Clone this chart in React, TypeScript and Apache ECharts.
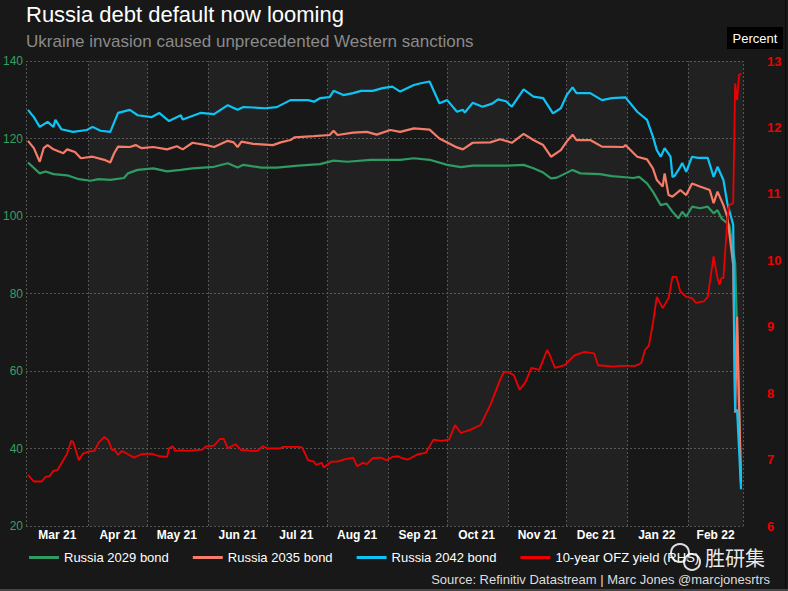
import React, { useEffect, useRef } from "react";
import * as echarts from "echarts";

const TITLE = "Russia debt default now looming";
const SUBTITLE = "Ukraine invasion caused unprecedented Western sanctions";
const SOURCE = "Source: Refinitiv Datastream | Marc Jones @marcjonesrtrs";
const SERIES_NAMES = ["Russia 2029 bond", "Russia 2035 bond", "Russia 2042 bond", "10-year OFZ yield (RHS)"];
const SERIES_COLORS = ["#2f9a62", "#f47c68", "#0ec4f5", "#ee0000"];
const MONTH_NAMES = ["Jan", "Feb", "Mar", "Apr", "May", "Jun", "Jul", "Aug", "Sep", "Oct", "Nov", "Dec"];

const X_MIN = "2021-02-28";
const X_MAX = "2022-03-01";
const MONTH_BOUNDS = [
  "2021-02-28", "2021-04-01", "2021-05-01", "2021-06-01", "2021-07-01", "2021-08-01", "2021-09-01",
  "2021-10-01", "2021-11-01", "2021-12-01", "2022-01-01", "2022-02-01", "2022-03-01",
];
const MONTH_LABEL_POS = [
  "2021-03-16", "2021-04-16", "2021-05-16", "2021-06-16", "2021-07-16", "2021-08-16",
  "2021-09-16", "2021-10-16", "2021-11-16", "2021-12-16", "2022-01-16", "2022-02-15",
];

const bond2029: [string, number][] = [
  ["2021-03-01", 113.8], ["2021-03-07", 111], ["2021-03-10", 111.5], ["2021-03-14", 110.8], ["2021-03-21", 110.5],
  ["2021-03-27", 109.5], ["2021-04-02", 109.1], ["2021-04-06", 109.5], ["2021-04-12", 109.3], ["2021-04-19", 109.8],
  ["2021-04-21", 111], ["2021-04-26", 111.9], ["2021-05-04", 112.3], ["2021-05-11", 111.5], ["2021-05-18", 111.9],
  ["2021-05-24", 112.3], ["2021-06-04", 112.7], ["2021-06-11", 113.6], ["2021-06-16", 112.5], ["2021-06-19", 113.2],
  ["2021-06-28", 112.5], ["2021-07-06", 112.5], ["2021-07-17", 113], ["2021-07-28", 113.4], ["2021-08-04", 114.3],
  ["2021-08-11", 114], ["2021-08-23", 114.5], ["2021-09-07", 114.5], ["2021-09-14", 114.9], ["2021-09-22", 114.5],
  ["2021-10-01", 113.2], ["2021-10-08", 112.6], ["2021-10-14", 113], ["2021-10-23", 113], ["2021-11-01", 113],
  ["2021-11-09", 113.2], ["2021-11-14", 112.3], ["2021-11-19", 111.2], ["2021-11-23", 109.7], ["2021-11-26", 109.9],
  ["2021-12-04", 111.9], ["2021-12-08", 111], ["2021-12-18", 110.8], ["2021-12-24", 110.3], ["2021-12-31", 110],
  ["2022-01-04", 109.8], ["2022-01-07", 110.1], ["2022-01-11", 108.4], ["2022-01-14", 106.3], ["2022-01-18", 102.8],
  ["2022-01-21", 103.2], ["2022-01-24", 101.1], ["2022-01-27", 99.4], ["2022-01-29", 101.1], ["2022-01-31", 99.8],
  ["2022-02-03", 102.4], ["2022-02-07", 102], ["2022-02-11", 102.4], ["2022-02-14", 100.7], ["2022-02-16", 101.5],
  ["2022-02-18", 99.4], ["2022-02-22", 97.7], ["2022-02-25", 87.8], ["2022-02-26", 70], ["2022-02-27", 49],
  ["2022-02-28", 31.5],
];

const bond2035: [string, number][] = [
  ["2021-03-01", 119.4], ["2021-03-04", 117.5], ["2021-03-07", 114], ["2021-03-09", 117.5], ["2021-03-11", 118.3],
  ["2021-03-14", 117.2], ["2021-03-19", 116.2], ["2021-03-21", 117.2], ["2021-03-25", 116.5], ["2021-03-28", 114.9],
  ["2021-04-03", 115.3], ["2021-04-09", 114.5], ["2021-04-12", 113.8], ["2021-04-14", 116.2], ["2021-04-16", 117.9],
  ["2021-04-22", 117.8], ["2021-04-25", 118.3], ["2021-04-28", 117.5], ["2021-05-04", 117.8], ["2021-05-11", 117.2],
  ["2021-05-16", 118], ["2021-05-19", 117.2], ["2021-05-24", 118.9], ["2021-05-31", 118.3], ["2021-06-04", 117.8],
  ["2021-06-11", 119.4], ["2021-06-14", 119], ["2021-06-16", 117.8], ["2021-06-18", 119.2], ["2021-06-24", 118.6],
  ["2021-07-04", 118.3], ["2021-07-08", 119], ["2021-07-13", 119.6], ["2021-07-15", 120.3], ["2021-07-25", 120.6],
  ["2021-08-02", 120.9], ["2021-08-04", 122], ["2021-08-06", 120.9], ["2021-08-14", 121.5], ["2021-08-21", 121.7],
  ["2021-08-26", 121], ["2021-09-02", 122.2], ["2021-09-07", 121.7], ["2021-09-14", 122.6], ["2021-09-22", 122.3],
  ["2021-09-27", 120], ["2021-10-06", 117.7], ["2021-10-09", 117.2], ["2021-10-14", 118.9], ["2021-10-23", 119],
  ["2021-10-28", 119.8], ["2021-11-03", 118.9], ["2021-11-09", 121.2], ["2021-11-14", 119.6], ["2021-11-19", 118.3],
  ["2021-11-23", 115.3], ["2021-11-28", 117], ["2021-12-01", 119.2], ["2021-12-04", 121], ["2021-12-06", 119.6],
  ["2021-12-13", 119.6], ["2021-12-19", 117.9], ["2021-12-30", 117.8], ["2021-12-31", 118.3], ["2022-01-06", 115.3],
  ["2022-01-11", 114.6], ["2022-01-14", 112.3], ["2022-01-16", 109.3], ["2022-01-19", 107.6], ["2022-01-20", 111],
  ["2022-01-22", 105.4], ["2022-01-24", 105], ["2022-01-28", 106.7], ["2022-01-31", 105.4], ["2022-02-03", 108.4],
  ["2022-02-07", 107.6], ["2022-02-12", 106.7], ["2022-02-14", 103.3], ["2022-02-16", 106.3], ["2022-02-19", 102.8],
  ["2022-02-21", 99.8], ["2022-02-24", 87.4], ["2022-02-25", 49.2], ["2022-02-26", 74], ["2022-02-27", 51.7],
  ["2022-02-28", 31],
];

const bond2042: [string, number][] = [
  ["2021-03-01", 127.4], ["2021-03-04", 125.5], ["2021-03-07", 123], ["2021-03-11", 124.3], ["2021-03-14", 123],
  ["2021-03-15", 124.8], ["2021-03-18", 122.4], ["2021-03-24", 121.7], ["2021-03-31", 122.2], ["2021-04-03", 123],
  ["2021-04-07", 122], ["2021-04-12", 121.7], ["2021-04-16", 126.6], ["2021-04-22", 127.4], ["2021-04-26", 126],
  ["2021-05-03", 125.5], ["2021-05-07", 126.6], ["2021-05-12", 124.5], ["2021-05-18", 126], ["2021-05-19", 124.9],
  ["2021-05-28", 126.6], ["2021-06-04", 126.3], ["2021-06-11", 128.6], ["2021-06-16", 127.4], ["2021-06-19", 128.1],
  ["2021-06-24", 128], ["2021-06-30", 127.8], ["2021-07-06", 128.1], ["2021-07-13", 129.9], ["2021-07-22", 129.9],
  ["2021-07-25", 129.5], ["2021-07-28", 130.4], ["2021-08-02", 130.7], ["2021-08-04", 132.3], ["2021-08-09", 131.2],
  ["2021-08-14", 131.7], ["2021-08-18", 132.3], ["2021-08-24", 132.3], ["2021-08-29", 133], ["2021-09-03", 133.4],
  ["2021-09-07", 132.1], ["2021-09-14", 133.8], ["2021-09-17", 134.2], ["2021-09-22", 134.7], ["2021-09-27", 129.1],
  ["2021-10-01", 129.9], ["2021-10-06", 126.9], ["2021-10-09", 127.4], ["2021-10-10", 126.7], ["2021-10-14", 129.2],
  ["2021-10-19", 128.2], ["2021-10-24", 129], ["2021-10-27", 130.1], ["2021-10-31", 129.6], ["2021-11-03", 128.2],
  ["2021-11-09", 132.7], ["2021-11-14", 130.8], ["2021-11-19", 130.4], ["2021-11-24", 126.5], ["2021-11-28", 127.8],
  ["2021-12-01", 131.2], ["2021-12-04", 133.2], ["2021-12-06", 131.7], ["2021-12-13", 131.7], ["2021-12-16", 130.8],
  ["2021-12-19", 129.9], ["2021-12-24", 130.4], ["2021-12-31", 130.6], ["2022-01-06", 126.9], ["2022-01-11", 124.8],
  ["2022-01-14", 120.5], ["2022-01-16", 117], ["2022-01-18", 115.3], ["2022-01-20", 117.5], ["2022-01-23", 115.3],
  ["2022-01-24", 110.1], ["2022-01-25", 110.3], ["2022-01-28", 112.7], ["2022-01-29", 113.7], ["2022-01-31", 111.4],
  ["2022-02-03", 115.3], ["2022-02-06", 115], ["2022-02-11", 115], ["2022-02-14", 110.1], ["2022-02-16", 112.7],
  ["2022-02-19", 109.3], ["2022-02-21", 103.3], ["2022-02-24", 97.7], ["2022-02-25", 49.9], ["2022-02-26", 49.9],
  ["2022-02-28", 29.5],
];

const ofzYield: [string, number][] = [
  ["2021-03-01", 6.77], ["2021-03-04", 6.67], ["2021-03-08", 6.67], ["2021-03-10", 6.74], ["2021-03-12", 6.75],
  ["2021-03-14", 6.83], ["2021-03-16", 6.84], ["2021-03-19", 6.99], ["2021-03-21", 7.09], ["2021-03-23", 7.28],
  ["2021-03-24", 7.27], ["2021-03-27", 6.99], ["2021-03-29", 7.09], ["2021-04-01", 7.12], ["2021-04-04", 7.13],
  ["2021-04-06", 7.25], ["2021-04-09", 7.34], ["2021-04-11", 7.29], ["2021-04-13", 7.14], ["2021-04-14", 7.16],
  ["2021-04-16", 7.07], ["2021-04-18", 7.13], ["2021-04-24", 7.03], ["2021-04-28", 7.08], ["2021-05-03", 7.09],
  ["2021-05-07", 7.05], ["2021-05-11", 7.04], ["2021-05-12", 7.17], ["2021-05-14", 7.2], ["2021-05-15", 7.13],
  ["2021-05-19", 7.14], ["2021-05-21", 7.13], ["2021-05-29", 7.15], ["2021-05-31", 7.2], ["2021-06-04", 7.21],
  ["2021-06-07", 7.31], ["2021-06-09", 7.31], ["2021-06-11", 7.17], ["2021-06-15", 7.23], ["2021-06-18", 7.14],
  ["2021-06-21", 7.14], ["2021-06-23", 7.13], ["2021-06-26", 7.13], ["2021-06-29", 7.2], ["2021-07-01", 7.17],
  ["2021-07-08", 7.17], ["2021-07-09", 7.19], ["2021-07-17", 7.19], ["2021-07-19", 7.18], ["2021-07-22", 6.99],
  ["2021-07-25", 6.97], ["2021-07-26", 6.92], ["2021-07-29", 6.95], ["2021-07-30", 6.88], ["2021-08-03", 6.97],
  ["2021-08-06", 6.97], ["2021-08-09", 7.0], ["2021-08-14", 7.03], ["2021-08-16", 6.9], ["2021-08-19", 6.95],
  ["2021-08-21", 6.93], ["2021-08-24", 7.02], ["2021-08-28", 7.03], ["2021-08-31", 6.99], ["2021-09-03", 7.04],
  ["2021-09-06", 7.05], ["2021-09-08", 7.02], ["2021-09-11", 7.0], ["2021-09-16", 7.08], ["2021-09-20", 7.1],
  ["2021-09-24", 7.3], ["2021-09-28", 7.28], ["2021-10-02", 7.3], ["2021-10-05", 7.52], ["2021-10-08", 7.4],
  ["2021-10-13", 7.45], ["2021-10-18", 7.52], ["2021-10-23", 7.82], ["2021-10-28", 8.2], ["2021-10-30", 8.32],
  ["2021-11-01", 8.32], ["2021-11-04", 8.27], ["2021-11-07", 8.05], ["2021-11-10", 8.17], ["2021-11-13", 8.38],
  ["2021-11-17", 8.35], ["2021-11-21", 8.65], ["2021-11-22", 8.6], ["2021-11-25", 8.38], ["2021-11-30", 8.42],
  ["2021-12-05", 8.57], ["2021-12-10", 8.62], ["2021-12-15", 8.6], ["2021-12-17", 8.42], ["2021-12-25", 8.4],
  ["2021-12-28", 8.41], ["2022-01-05", 8.41], ["2022-01-08", 8.45], ["2022-01-10", 8.65], ["2022-01-12", 8.72],
  ["2022-01-14", 9.05], ["2022-01-16", 9.45], ["2022-01-19", 9.28], ["2022-01-22", 9.43], ["2022-01-24", 9.75],
  ["2022-01-26", 9.75], ["2022-01-28", 9.53], ["2022-01-31", 9.45], ["2022-02-03", 9.43], ["2022-02-05", 9.36],
  ["2022-02-09", 9.38], ["2022-02-11", 9.45], ["2022-02-14", 10.06], ["2022-02-16", 9.73], ["2022-02-17", 9.63],
  ["2022-02-18", 9.73], ["2022-02-19", 9.73], ["2022-02-21", 10.6], ["2022-02-22", 10.83], ["2022-02-24", 10.86],
  ["2022-02-25", 12.66], ["2022-02-26", 12.41], ["2022-02-27", 12.79], ["2022-02-28", 12.81],
];

const LEFT_TICKS = { min: 20, max: 140, interval: 20 };
const RIGHT_TICKS = { min: 6, max: 13, interval: 1 };

const FONT = "'Liberation Sans', Arial, sans-serif";
const GRID_LINE = { color: "#555555", type: [2, 2] as number[], width: 1 };

const ts = (d: string) => Date.parse(d + "T00:00:00Z");
const toXY = (arr: [string, number][]) => arr.map(([d, v]) => [ts(d), v]);

export default function App() {
  const ref = useRef<HTMLDivElement>(null);

  useEffect(() => {
    if (!ref.current) return;
    const chart = echarts.init(ref.current, undefined, { renderer: "svg" });

    const bands: any[] = [];
    for (let i = 0; i < MONTH_BOUNDS.length - 1; i++) {
      if (i % 2 === 1) {
        bands.push([
          { xAxis: ts(MONTH_BOUNDS[i]), itemStyle: { color: "rgba(255,255,255,0.04)" } },
          { xAxis: ts(MONTH_BOUNDS[i + 1]) },
        ]);
      }
    }
    const vlines = MONTH_BOUNDS.map((d) => ({ xAxis: ts(d) }));

    const lineSeries = (name: string, color: string, data: [string, number][], yIdx: number, width: number) => ({
      name,
      type: "line",
      yAxisIndex: yIdx,
      data: toXY(data),
      symbol: "none",
      showSymbol: false,
      z: 3,
      lineStyle: { color, width },
      itemStyle: { color },
      emphasis: { disabled: true },
    });

    const s0: any = lineSeries(SERIES_NAMES[0], SERIES_COLORS[0], bond2029, 0, 2.2);
    s0.markArea = { silent: true, z: 1, data: bands, label: { show: false } };
    s0.markLine = {
      silent: true,
      z: 1,
      symbol: ["none", "none"],
      label: { show: false },
      lineStyle: GRID_LINE,
      emphasis: { disabled: true },
      data: vlines,
    };

    const option: any = {
      animation: false,
      backgroundColor: "#181818",
      grid: { left: 25, right: 45, top: 61, bottom: 65 },
      xAxis: {
        type: "value",
        min: ts(X_MIN),
        max: ts(X_MAX),
        axisLine: { show: false },
        axisTick: { show: false },
        splitLine: { show: false },
        axisLabel: {
          customValues: MONTH_LABEL_POS.map(ts),
          color: "#ffffff",
          fontWeight: "bold",
          fontSize: 12,
          fontFamily: FONT,
          margin: 3,
          showMinLabel: true,
          showMaxLabel: true,
          formatter: (v: number) => {
            const d = new Date(v);
            return MONTH_NAMES[d.getUTCMonth()] + " " + String(d.getUTCFullYear()).slice(2);
          },
        },
      },
      yAxis: [
        {
          type: "value",
          position: "left",
          ...LEFT_TICKS,
          axisLine: { show: false },
          axisTick: { show: false },
          axisLabel: { color: "#35a061", fontSize: 12, fontFamily: FONT, margin: 3 },
          splitLine: { show: true, lineStyle: GRID_LINE },
        },
        {
          type: "value",
          position: "right",
          ...RIGHT_TICKS,
          axisLine: { show: false },
          axisTick: { show: false },
          axisLabel: { color: "#ee0000", fontSize: 13, fontWeight: "bold", fontFamily: FONT, margin: 24 },
          splitLine: { show: false },
        },
      ],
      legend: {
        left: 29,
        top: 551,
        padding: 0,
        itemGap: 24,
        itemWidth: 30,
        itemHeight: 3,
        icon: "rect",
        textStyle: { color: "#ffffff", fontSize: 13, fontFamily: FONT },
        data: SERIES_NAMES,
        selectedMode: false,
      },
      series: [
        s0,
        lineSeries(SERIES_NAMES[1], SERIES_COLORS[1], bond2035, 0, 2.2),
        lineSeries(SERIES_NAMES[2], SERIES_COLORS[2], bond2042, 0, 2.2),
        lineSeries(SERIES_NAMES[3], SERIES_COLORS[3], ofzYield, 1, 1.8),
      ],
      graphic: [
        {
          type: "text",
          left: 26,
          top: 3,
          style: { text: TITLE, fill: "#ffffff", font: `22px ${FONT}` },
        },
        {
          type: "text",
          left: 26,
          top: 33,
          style: { text: SUBTITLE, fill: "#8a8a8a", font: `17px ${FONT}` },
        },
        {
          type: "rect",
          shape: { x: 727, y: 27, width: 56, height: 22 },
          style: { fill: "#000000" },
        },
        {
          type: "text",
          x: 755,
          y: 38,
          style: { text: "Percent", fill: "#ffffff", font: `13px ${FONT}`, align: "center", verticalAlign: "middle" },
        },
        {
          type: "text",
          x: 770,
          y: 579,
          style: { text: SOURCE, fill: "#dddddd", font: `13px ${FONT}`, align: "right", verticalAlign: "middle" },
        },
        {
          type: "circle",
          shape: { cx: 680, cy: 553, r: 9 },
          style: { fill: "none", stroke: "rgba(255,255,255,0.85)", lineWidth: 2 },
        },
        {
          type: "circle",
          shape: { cx: 692, cy: 562, r: 8 },
          style: { fill: "rgba(24,24,24,0.6)", stroke: "rgba(255,255,255,0.85)", lineWidth: 2 },
        },
        {
          type: "text",
          x: 705,
          y: 557,
          style: {
            text: "胜研集",
            fill: "rgba(255,255,255,0.92)",
            font: `20px 'Noto Sans CJK SC', sans-serif`,
            verticalAlign: "middle",
          },
        },
        {
          type: "rect",
          shape: { x: 0, y: 589, width: 788, height: 2 },
          style: { fill: "#444444" },
        },
        {
          type: "rect",
          shape: { x: 785, y: 0, width: 1, height: 589 },
          style: { fill: "#0a0a0a" },
        },
      ],
    };

    chart.setOption(option);
    return () => chart.dispose();
  }, []);

  return (
    <div
      ref={ref}
      style={{ position: "absolute", left: 0, top: 0, width: 788, height: 591 }}
    />
  );
}
